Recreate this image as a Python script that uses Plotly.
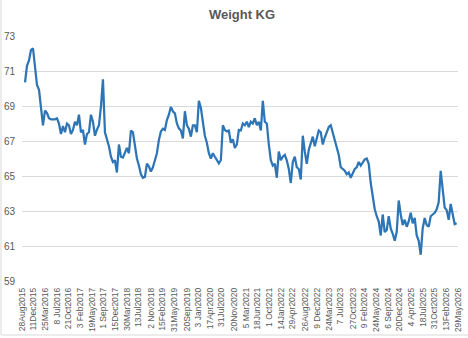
import pandas as pd
import plotly.graph_objects as go

# Weight readings (kg), sampled every 18 days starting 2015-09-24
weight = [
    70.35, 71.3, 71.6, 72.2, 72.3, 71.1, 70.2, 69.92, 68.7, 67.9,
    68.74, 68.6, 68.3, 68.24, 68.24, 68.24, 68.3, 68.0, 67.4, 67.85,
    67.5, 68.0, 67.9, 67.4, 67.63, 68.1, 67.9, 68.5, 67.5, 67.63,
    66.8, 67.4, 67.5, 68.5, 68.1, 67.3, 67.65, 67.9, 68.96, 70.52,
    67.5, 67.1, 66.7, 66.1, 65.8, 65.9, 65.2, 66.8, 66.1, 66.05,
    66.35, 66.6, 66.3, 67.6, 67.5, 66.6, 66.0, 65.6, 65.1, 64.9,
    64.95, 65.7, 65.55, 65.25, 65.5, 65.9, 66.3, 67.06, 67.55, 67.7,
    67.63, 68.2, 68.5, 68.95, 68.7, 68.58, 68.0, 67.72, 67.6, 67.15,
    68.7, 67.9, 67.7, 67.25, 67.9, 67.9, 67.5, 69.3, 68.9, 68.1,
    67.3, 66.9, 66.3, 66.0, 66.3, 66.1, 65.9, 65.72, 65.9, 67.9,
    67.63, 67.55, 67.6, 66.9, 67.1, 66.6, 66.8, 67.63, 67.6, 68.0,
    67.9, 68.1, 67.8, 68.1, 68.0, 68.3, 67.9, 68.1, 67.6, 69.3,
    68.1, 68.0, 66.8, 65.9, 65.6, 65.7, 64.9, 66.4, 65.9, 66.1,
    66.2, 65.9, 65.4, 64.6, 65.8, 66.1, 65.5, 65.4, 64.8, 67.3,
    66.4, 65.7, 66.5, 66.9, 67.25, 66.7, 67.1, 67.6, 67.5, 66.8,
    67.2, 67.5, 67.8, 67.9, 67.5, 67.0, 66.6, 66.2, 65.5, 65.4,
    65.3, 65.1, 65.2, 64.9, 65.2, 65.4, 65.5, 65.8, 65.6, 65.8,
    65.95, 66.0, 65.7, 64.6, 63.9, 63.1, 62.7, 62.4, 61.6, 62.8,
    61.8, 61.9, 62.7, 62.0, 61.7, 61.3, 61.8, 63.6, 62.8, 62.2,
    62.5, 62.1, 62.4, 62.9, 62.3, 62.6, 61.6, 61.3, 60.5, 62.0,
    62.6, 62.2, 62.1, 62.7, 62.8, 62.9, 63.1, 63.5, 65.3, 64.3,
    63.2, 63.05, 62.5, 63.4, 62.8, 62.25, 62.3,
]
dates = pd.date_range(start="2015-09-24", periods=len(weight), freq="18D")

tick_dates = [
    "2015-08-28", "2015-12-11", "2016-03-25", "2016-07-08", "2016-10-21",
    "2017-02-03", "2017-05-19", "2017-09-01", "2017-12-15", "2018-03-30",
    "2018-07-13", "2018-11-02", "2019-02-15", "2019-05-31", "2019-09-20",
    "2020-01-03", "2020-04-17", "2020-07-31", "2020-11-20", "2021-03-05",
    "2021-06-18", "2021-10-01", "2022-01-14", "2022-04-29", "2022-08-26",
    "2022-12-09", "2023-03-24", "2023-07-07", "2023-10-27", "2024-02-09",
    "2024-05-24", "2024-09-06", "2024-12-20", "2025-04-04", "2025-07-18",
    "2025-10-31", "2026-02-13", "2026-05-29",
]
tick_labels = [
    "28Aug2015", "11Dec2015", "25Mar2016", "8 Jul2016", "21Oct2016",
    "3 Feb2017", "19May2017", "1 Sep2017", "15Dec2017", "30Mar2018",
    "13Jul2018", "2 Nov2018", "15Feb2019", "31May2019", "20Sep2019",
    "3 Jan2020", "17Apr2020", "31Jul2020", "20Nov2020", "5 Mar2021",
    "18Jun2021", "1 Oct2021", "14Jan2022", "29Apr2022", "26Aug2022",
    "9 Dec2022", "24Mar2023", "7 Jul2023", "27Oct2023", "9 Feb2024",
    "24May2024", "6 Sep2024", "20Dec2024", "4 Apr2025", "18Jul2025",
    "31Oct2025", "13Feb2026", "29May2026",
]
y_ticks = [59, 61, 63, 65, 67, 69, 71, 73]

fig = go.Figure()
fig.add_trace(go.Scatter(
    x=dates, y=weight, mode="lines",
    line=dict(color="#2E75B6", width=2.25),
    showlegend=False, hoverinfo="skip",
))

W, H = 468, 338
L, R, T, B = 22, 10, 36, 57
pw, ph = W - L - R, H - T - B

fig.update_layout(
    width=W, height=H,
    margin=dict(l=L, r=R, t=T, b=B, pad=0),
    paper_bgcolor="white", plot_bgcolor="white",
    font=dict(family="Liberation Sans, Arial, sans-serif", color="#595959"),
    title=dict(text="<b>Weight KG</b>", x=242 / W, xref="paper" if False else "container",
               y=1 - 14 / H, yref="container", xanchor="center", yanchor="middle",
               font=dict(size=13, color="#595959")),
    xaxis=dict(
        type="date", range=["2015-08-28", "2026-05-29"],
        tickmode="array", tickvals=tick_dates, ticktext=tick_labels,
        tickangle=-90, tickfont=dict(size=8.5, color="#595959"),
        showgrid=False, zeroline=False, showline=False, ticks="",
        automargin=False, ticklabelstandoff=4,
    ),
    yaxis=dict(
        range=[59, 73], tickvals=y_ticks, ticktext=[str(v) for v in y_ticks],
        tickfont=dict(size=10, color="#595959"),
        showgrid=True, gridcolor="#d9d9d9", gridwidth=1,
        zeroline=False, showline=False, ticks="", automargin=False,
        ticklabelstandoff=6,
    ),
    shapes=[
        dict(type="line", xref="paper", yref="paper",
             x0=(1 - L) / pw, x1=(1 - L) / pw, y0=(H - B - 0) / ph, y1=(H - B - 335) / ph,
             line=dict(color="#d9d9d9", width=1)),
        dict(type="line", xref="paper", yref="paper",
             x0=(1 - L) / pw, x1=(468 - L) / pw, y0=(H - B - 335) / ph, y1=(H - B - 335) / ph,
             line=dict(color="#d9d9d9", width=1)),
    ],
)

fig.write_html("out.html")
